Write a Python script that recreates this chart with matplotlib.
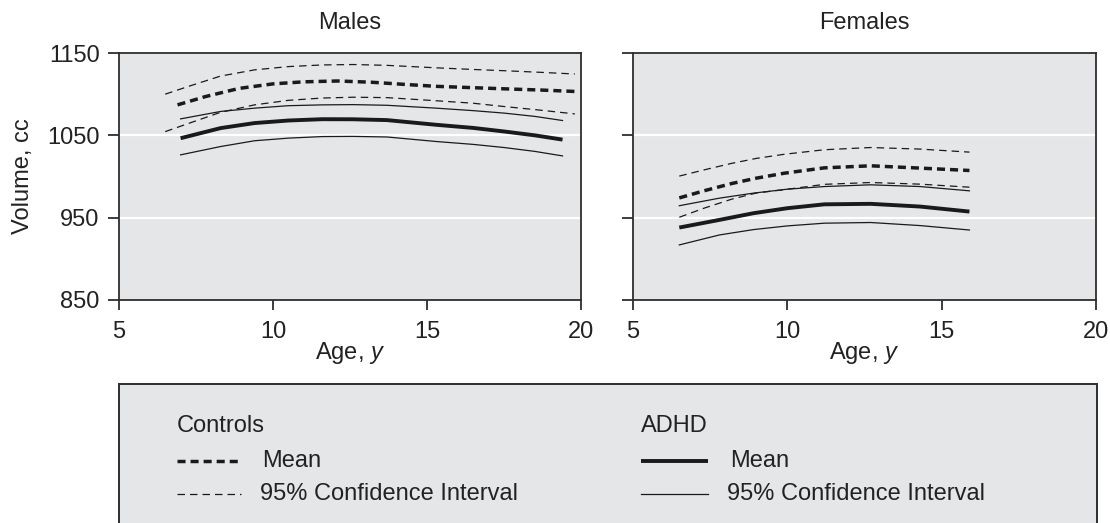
import numpy as np
import matplotlib.pyplot as plt

plt.rcParams['font.family'] = ['Liberation Sans', 'DejaVu Sans']
plt.rcParams['mathtext.fontset'] = 'custom'
plt.rcParams['mathtext.rm'] = 'Liberation Sans'
plt.rcParams['mathtext.it'] = 'Liberation Sans:italic'
plt.rcParams['lines.scale_dashes'] = False

# Males, controls
male_ctrl_age = [6.5, 7.3, 8.3, 9.4, 10.5, 11.6, 12.6, 13.7, 15.3, 16.5, 17.5, 18.7, 19.8]
male_ctrl_upper = [1100, 1110, 1122, 1129.5, 1133.5, 1135.5, 1136, 1135, 1132, 1130, 1128.5, 1126.5, 1124.5]
male_ctrl_lower = [1054.5, 1065, 1078, 1087, 1092.5, 1095.3, 1096.3, 1095.8, 1092, 1089, 1085, 1080.5, 1076]
male_ctrl_mean_age = [6.9, 7.8, 8.9, 10.0, 11.0, 12.1, 13.2, 14.3, 15.3, 16.4, 17.5, 18.7, 19.8]
male_ctrl_mean = [1087, 1097, 1107, 1112.5, 1115, 1116, 1114.5, 1111.8, 1109.5, 1108, 1106.5, 1105, 1103.3]

# Males, ADHD
male_adhd_age = [7.0, 8.3, 9.4, 10.5, 11.6, 12.6, 13.7, 15.3, 16.5, 17.5, 18.5, 19.4]
male_adhd_upper = [1070, 1079, 1083, 1086, 1087, 1087.3, 1086.5, 1083, 1080, 1077, 1073, 1068]
male_adhd_mean = [1046.5, 1058.8, 1064.9, 1068, 1069.6, 1069.5, 1068.5, 1062.8, 1059, 1054.7, 1050, 1044.8]
male_adhd_lower = [1026.3, 1036.4, 1043.4, 1046.6, 1048.5, 1048.7, 1048, 1042.5, 1039, 1035.2, 1030.5, 1025]

# Females, controls
female_ctrl_age = [6.5, 7.3, 8.2, 9.0, 9.9, 11.2, 12.7, 14.3, 15.9]
female_ctrl_upper = [1000.5, 1008, 1016, 1022, 1027, 1032.5, 1035.2, 1033.3, 1029.6]
female_ctrl_mean = [974, 982.6, 991.5, 998, 1004, 1010.5, 1013, 1010.2, 1007.3]
female_ctrl_lower = [950.5, 961.5, 972.5, 980, 984, 990.5, 992.7, 990.7, 987]

# Females, ADHD
female_adhd_age = [6.5, 7.8, 8.9, 10.0, 11.2, 12.7, 14.3, 15.9]
female_adhd_upper = [964.5, 973.7, 979.8, 984.6, 987.8, 989.9, 987.8, 982.6]
female_adhd_mean = [938, 947.3, 955.4, 961.5, 966.2, 966.8, 963.5, 957.4]
female_adhd_lower = [916.9, 929, 935.5, 940, 943.3, 944.1, 940.4, 935]

x_ticks = [5, 10, 15, 20]
y_ticks = [850, 950, 1050, 1150]

bg = '#e5e6e8'
ink = '#1a1a1a'
spine_col = '#2e2e2e'
txt = '#222222'
fs = 17

mean_dash = dict(color=ink, lw=2.5, linestyle=(0, (5.8, 3.6)))
ci_dash = dict(color=ink, lw=0.9, linestyle=(0, (5.4, 3.6)))
mean_solid = dict(color=ink, lw=2.8, solid_capstyle='butt')
ci_solid = dict(color=ink, lw=0.9)

W, H = 1110, 523
fig = plt.figure(figsize=(W / 100, H / 100), dpi=100)

ax_m = fig.add_axes([119 / W, 1 - 300 / H, 462 / W, 247 / H])
ax_f = fig.add_axes([633 / W, 1 - 300 / H, 463 / W, 247 / H])

panels = [
    (ax_m, 'Males', male_ctrl_age, male_ctrl_upper, male_ctrl_lower,
     male_ctrl_mean_age, male_ctrl_mean,
     male_adhd_age, male_adhd_upper, male_adhd_mean, male_adhd_lower),
    (ax_f, 'Females', female_ctrl_age, female_ctrl_upper, female_ctrl_lower,
     female_ctrl_age, female_ctrl_mean,
     female_adhd_age, female_adhd_upper, female_adhd_mean, female_adhd_lower),
]

for (ax, title, c_age, c_up, c_lo, cm_age, c_mean,
     a_age, a_up, a_mean, a_lo) in panels:
    ax.set_facecolor(bg)
    ax.set_xlim(5, 20)
    ax.set_ylim(850, 1150)
    ax.set_xticks(x_ticks)
    ax.set_yticks(y_ticks)
    for v in [950, 1050]:
        ax.axhline(v, color='white', lw=1.6, zorder=1)

    ax.plot(c_age, c_up, **ci_dash)
    ax.plot(c_age, c_lo, **ci_dash)
    ax.plot(cm_age, c_mean, **mean_dash)
    ax.plot(a_age, a_up, **ci_solid)
    ax.plot(a_age, a_lo, **ci_solid)
    ax.plot(a_age, a_mean, **mean_solid)

    for s in ax.spines.values():
        s.set_color(spine_col)
        s.set_linewidth(1.3)
    ax.tick_params(axis='both', direction='out', color=spine_col, width=1.3,
                   labelsize=fs, labelcolor=txt)
    ax.tick_params(axis='y', length=8, pad=6)
    ax.tick_params(axis='x', length=7.5, pad=7.5)

    ax.set_title(title, fontsize=fs, pad=17, color=txt)
    ax.set_xlabel('Age, $\\mathit{y}$', fontsize=fs, color=txt)
    ax.xaxis.set_label_coords(0.5, -0.16)

ax_m.set_ylabel('Volume, cc', fontsize=fs, color=txt)
ax_m.yaxis.set_label_coords(-0.184, 0.5)
ax_f.tick_params(axis='y', labelleft=False)

# legend box (bottom edge runs off the figure)
leg_top = 384
leg_left, leg_right = 119, 1097
ax_leg = fig.add_axes([leg_left / W, -0.1, (leg_right - leg_left) / W, (H - leg_top) / H + 0.1])
ax_leg.set_facecolor(bg)
ax_leg.set_xlim(leg_left, leg_right)
ax_leg.set_ylim(H + 0.1 * H, leg_top)
ax_leg.set_xticks([])
ax_leg.set_yticks([])
for s in ax_leg.spines.values():
    s.set_color(spine_col)
    s.set_linewidth(1.4)

ax_leg.text(177, 426, 'Controls', fontsize=fs, va='center', ha='left', color=txt)
ax_leg.plot([177, 241], [461, 461], **mean_dash)
ax_leg.text(262, 461, 'Mean', fontsize=fs, va='center', ha='left', color=txt)
ax_leg.plot([177, 241], [494, 494], **ci_dash)
ax_leg.text(260, 494, '95% Confidence Interval', fontsize=fs, va='center', ha='left', color=txt)

ax_leg.text(641, 426, 'ADHD', fontsize=fs, va='center', ha='left', color=txt)
ax_leg.plot([641, 708], [461, 461], **mean_solid)
ax_leg.text(730, 461, 'Mean', fontsize=fs, va='center', ha='left', color=txt)
ax_leg.plot([641, 708], [494, 494], **ci_solid)
ax_leg.text(727, 494, '95% Confidence Interval', fontsize=fs, va='center', ha='left', color=txt)

fig.savefig('out.png', dpi=100, facecolor='white')
plt.close(fig)
